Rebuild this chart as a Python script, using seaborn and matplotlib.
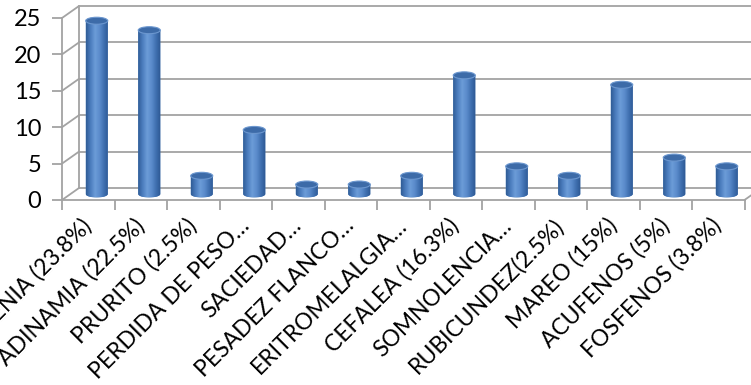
import numpy as np
import matplotlib
matplotlib.use("Agg")
import matplotlib.pyplot as plt
import seaborn as sns
from matplotlib.patches import Ellipse, Polygon
from matplotlib.colors import LinearSegmentedColormap

# Síntomas y porcentaje de pacientes
sintomas = [
    "ASTENIA (23.8%)", "ADINAMIA (22.5%)", "PRURITO (2.5%)", "PERDIDA DE PESO…",
    "SACIEDAD…", "PESADEZ FLANCO…", "ERITROMELALGIA…", "CEFALEA (16.3%)",
    "SOMNOLENCIA…", "RUBICUNDEZ(2.5%)", "MAREO (15%)", "ACUFENOS (5%)",
    "FOSFENOS (3.8%)",
]
porcentajes = [23.8, 22.5, 2.5, 8.8, 1.3, 1.3, 2.5, 16.3, 3.8, 2.5, 15.0, 5.0, 3.8]
ticks_y = [0, 5, 10, 15, 20, 25]

sns.set_theme(style="white")
plt.rcParams["font.family"] = ["Lato", "DejaVu Sans"]

W, H = 751, 385
fig = plt.figure(figsize=(W / 100, H / 100), dpi=100)
fig.patch.set_facecolor("white")

# front plane geometry (pixels)
left_px, base_px = 62, 200
px_cat, px_unit = 52.5, 7.28
ax = fig.add_axes([left_px / W, (H - base_px) / H, (W - left_px) / W, base_px / H])

sns.barplot(x=sintomas, y=porcentajes, ax=ax, width=0.42, color="#4F81BD",
            saturation=1, zorder=2)

xmax = -0.5 + (W - left_px) / px_cat
ymax = base_px / px_unit
ux, uy = 1 / px_cat, 1 / px_unit

# depth of the box (back wall offset) and of the bars (half depth)
DX, DY = 17 * ux, 12 * uy
BX, BY = 8.5 * ux, 6 * uy
grid_c = "#A3A3A3"
lw = 1.3

# walls: side diagonals + back wall gridlines
for v in ticks_y:
    ax.plot([-0.5, -0.5 + DX], [v, v + DY], color=grid_c, lw=lw, zorder=1, clip_on=False)
    ax.plot([-0.5 + DX, xmax + 1], [v + DY, v + DY], color=grid_c, lw=lw, zorder=1, clip_on=False)
ax.plot([-0.5 + DX, -0.5 + DX], [DY, 25 + DY], color=grid_c, lw=lw, zorder=1, clip_on=False)
n = len(sintomas)
ax.plot([n - 0.5, n - 0.5 + DX], [0, DY], color=grid_c, lw=lw, zorder=1, clip_on=False)

# cylinder shading
cyl = LinearSegmentedColormap.from_list(
    "cyl", ["#2F5C96", "#4B7DBE", "#6C9CD8", "#5A8BCB", "#3E6EAE", "#2C5690"])
grad = np.linspace(0, 1, 256).reshape(1, -1)
eh = 7 * uy
t = np.linspace(0, np.pi, 40)

for p in ax.patches:
    p.set_x(p.get_x() + BX)
    p.set_y(p.get_y() + BY)
    p.set_edgecolor("none")
    x0 = p.get_x()
    w = p.get_width()
    y0 = p.get_y()
    y1 = y0 + p.get_height()
    xc = x0 + w / 2
    arc = np.column_stack([xc - (w / 2) * np.cos(t), y0 - (eh / 2) * np.sin(t)])
    pts = np.vstack([[[x0, y1]], arc, [[x0 + w, y1]]])
    body = Polygon(pts, closed=True, facecolor="#4F81BD", edgecolor="none", zorder=2)
    ax.add_patch(body)
    im = ax.imshow(grad, extent=[x0, x0 + w, y0 - eh / 2, y1], aspect="auto",
                   cmap=cyl, zorder=3, interpolation="bilinear")
    im.set_clip_path(body)
    ax.add_patch(Ellipse((xc, y1), width=w, height=eh, facecolor="#3D6BA8",
                         edgecolor="#6C97CF", lw=0.8, zorder=4))
    p.set_visible(False)

ax.set_xlim(-0.5, xmax)
ax.set_ylim(0, ymax)

# axes lines
for s in ["top", "right"]:
    ax.spines[s].set_visible(False)
ax.spines["left"].set_bounds(0, 25)
ax.spines["bottom"].set_bounds(-0.5, n - 0.5)
for s in ["left", "bottom"]:
    ax.spines[s].set_color(grid_c)
    ax.spines[s].set_linewidth(lw)

ax.set_yticks(ticks_y)
ax.set_yticklabels([str(v) for v in ticks_y], fontsize=17, color="black")
ax.tick_params(axis="y", which="major", direction="out", length=7, width=lw,
               color=grid_c, pad=8, left=True)

ax.set_xticks(range(n))
ax.set_xticks(np.arange(-0.5, n, 1.0), minor=True)
ax.set_xticklabels(sintomas, rotation=45, ha="right", va="center",
                   rotation_mode="anchor", fontsize=16.5, color="black")
ax.tick_params(axis="x", which="major", length=0, pad=16, bottom=True)
ax.tick_params(axis="x", which="minor", direction="out", length=7, width=lw,
               color=grid_c, bottom=True)
ax.set_xlabel("")
ax.set_ylabel("")
ax.grid(False)
ax.patch.set_alpha(0)

fig.savefig("out.png", dpi=100, facecolor="white")
